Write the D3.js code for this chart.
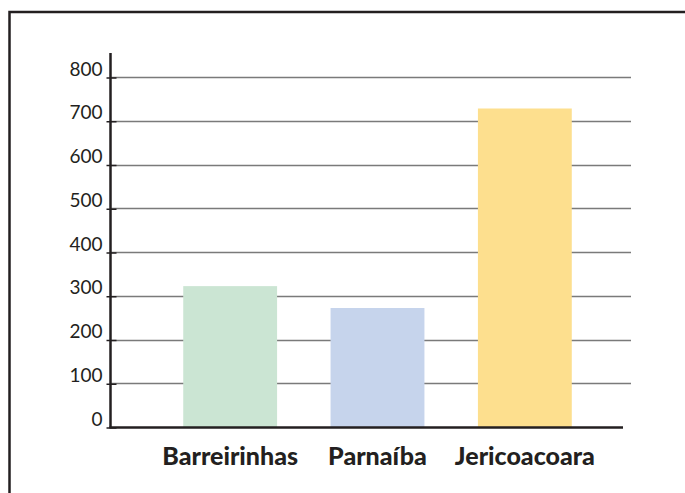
<!DOCTYPE html>
<html><head><meta charset="utf-8">
<script src="https://cdn.jsdelivr.net/npm/d3@7"></script>
<style>html,body{margin:0;padding:0;background:#fff;}svg{display:block;}</style>
</head><body>
<svg id="c" width="685" height="493"></svg>
<script>
const categories = ["Barreirinhas", "Parnaíba", "Jericoacoara"];
const values = [322, 272, 728];
const colors = ["#cbe5d3", "#c6d4ec", "#fddf8e"];
const tickValues = [0, 100, 200, 300, 400, 500, 600, 700, 800];

const svg = d3.select("#c");
const ink = "#231f20";

// frame
svg.append("rect").attr("x", 9.5).attr("y", 12).attr("width", 700).attr("height", 500)
  .attr("fill", "none").attr("stroke", ink).attr("stroke-width", 2.5);

const axisX = 110.5, y0 = 427, y800 = 77;
const y = d3.scaleLinear().domain([0, 800]).range([y0, y800]);
const x = d3.scaleBand().domain(categories).range([110, 645]).paddingInner(0.363).paddingOuter(0.497);

// gridlines
svg.append("g").selectAll("line").data(tickValues.filter(d => d > 0)).join("line")
  .attr("x1", axisX).attr("x2", 631)
  .attr("y1", d => Math.round(y(d)) + 0.5).attr("y2", d => Math.round(y(d)) + 0.5)
  .attr("stroke", "#7a7a7a").attr("stroke-width", 1.3);

// bars
svg.append("g").selectAll("rect").data(categories).join("rect")
  .attr("x", d => x(d)).attr("width", x.bandwidth())
  .attr("y", (d, i) => y(values[i])).attr("height", (d, i) => y0 - y(values[i]))
  .attr("fill", (d, i) => colors[i]);

// y axis
const yAxis = d3.axisLeft(y).tickValues(tickValues).tickSize(0).tickPadding(0);
const gy = svg.append("g").attr("transform", `translate(${axisX},0)`).call(yAxis);
gy.select(".domain").remove();
gy.selectAll(".tick text").attr("x", -8).attr("dy", "-0.1em")
  .attr("font-family", "Lato, 'Open Sans', sans-serif").attr("font-size", 19).attr("fill", ink);
gy.selectAll(".tick").append("line").attr("x1", -4).attr("x2", 6).attr("y1", 0.5).attr("y2", 0.5)
  .attr("stroke", ink).attr("stroke-width", 1.5);
svg.append("line").attr("x1", axisX).attr("x2", axisX).attr("y1", 53).attr("y2", y0 + 1)
  .attr("stroke", ink).attr("stroke-width", 2.5);

// x axis
const xAxis = d3.axisBottom(x).tickSize(0).tickPadding(0);
const gx = svg.append("g").attr("transform", `translate(0,${y0})`).call(xAxis);
gx.select(".domain").remove();
gx.selectAll(".tick text").attr("y", 38).attr("dy", 0)
  .attr("font-family", "Lato, 'Open Sans', sans-serif").attr("font-weight", "900")
  .attr("font-size", 25).attr("fill", ink);
svg.append("line").attr("x1", axisX - 1).attr("x2", 623).attr("y1", y0 + 0.5).attr("y2", y0 + 0.5)
  .attr("stroke", ink).attr("stroke-width", 2.5);
</script>
</body></html>
